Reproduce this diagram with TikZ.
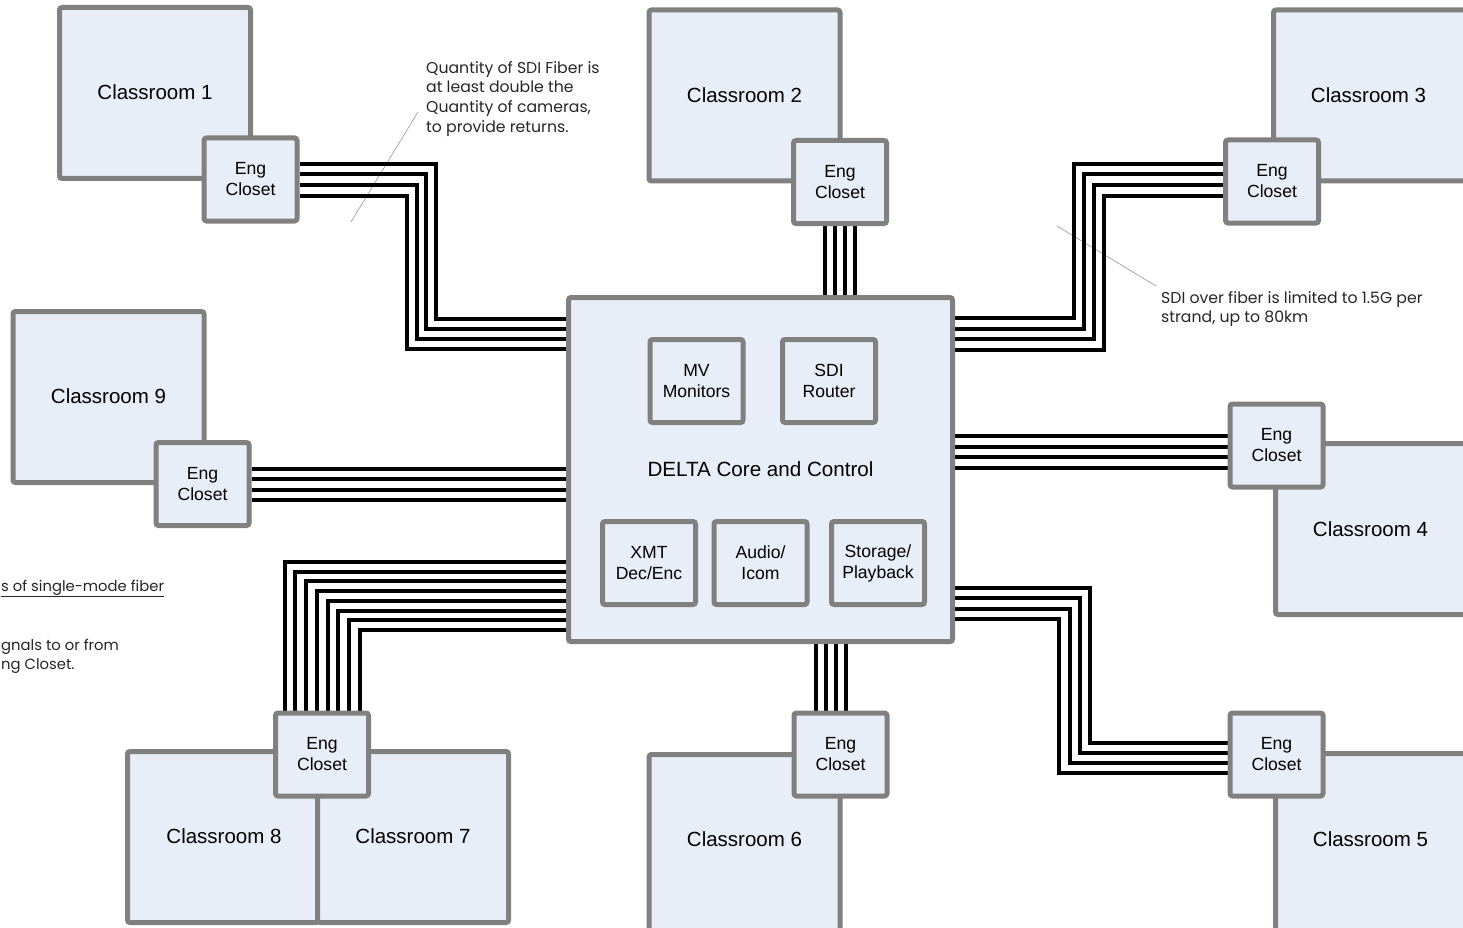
\documentclass[tikz,border=0pt]{standalone}
\usepackage{fontspec}
\setmainfont{Liberation Sans}
\newfontfamily\notefont{Poppins}
\pgfdeclarelayer{bg}
\pgfsetlayers{bg,main}
\definecolor{boxfill}{RGB}{232,238,248}
\definecolor{boxline}{RGB}{128,128,128}
\definecolor{notegray}{RGB}{150,150,150}
\begin{document}
\begin{tikzpicture}[x=1pt,y=-1pt,
  room/.style={draw=boxline,fill=boxfill,line width=5pt,rounded corners=2.5pt,
    minimum width=191pt,minimum height=171pt,inner sep=0pt},
  roomtext/.style={inner sep=0pt,font=\fontsize{20.5}{24}\selectfont},
  closet/.style={draw=boxline,fill=boxfill,line width=5pt,rounded corners=2.5pt,
    minimum width=93pt,minimum height=83pt,inner sep=0pt,align=center,
    font=\fontsize{17.6}{21}\selectfont},
  core/.style={draw=boxline,fill=boxfill,line width=5pt,rounded corners=2.5pt,
    minimum width=384pt,minimum height=344pt,inner sep=0pt,
    font=\fontsize{20.6}{24}\selectfont},
  fiber/.style={line width=4pt,black},
  note/.style={font=\notefont\fontsize{15.7}{19.7}\selectfont,align=left,inner sep=0pt,text=black!85},
  edgenote/.style={note,font=\notefont\fontsize{14.8}{19.7}\selectfont,anchor=base west},
  callout/.style={draw=notegray,line width=0.6pt}]
\useasboundingbox (0,0) rectangle (1463,928);

% classrooms and closets
\node[room] (r1) at (155,93) {};
\node[roomtext] (t1) at (155,92) {Classroom 1};
\node[closet] (ec1) at (250.5,179.5) {Eng\\Closet};
\node[room] (r2) at (744.5,95.5) {};
\node[roomtext] (t2) at (744.5,95) {Classroom 2};
\node[closet] (ec2) at (840,182) {Eng\\Closet};
\node[room,minimum width=205pt] (r3) at (1376,95.5) {};
\node[roomtext] (t3) at (1368.5,95) {Classroom 3};
\node[closet] (ec3) at (1272,181.5) {Eng\\Closet};
\node[room] (r9) at (108.5,397) {};
\node[roomtext] (t9) at (108.5,396) {Classroom 9};
\node[closet] (ec9) at (202.5,484) {Eng\\Closet};
\node[room,minimum width=205pt] (r4) at (1378,529) {};
\node[roomtext] (t4) at (1370.5,529) {Classroom 4};
\node[closet] (ec4) at (1276.5,445.5) {Eng\\Closet};
\node[room,minimum width=205pt,minimum height=190pt] (r5) at (1378,848.5) {};
\node[roomtext] (t5) at (1370.5,839) {Classroom 5};
\node[closet] (ec5) at (1276.5,754.5) {Eng\\Closet};
\node[room,minimum height=190pt] (r6) at (744.5,849.5) {};
\node[roomtext] (t6) at (744.5,839.5) {Classroom 6};
\node[closet] (ec6) at (840.5,754.5) {Eng\\Closet};
\node[room] (r8) at (223,837) {};
\node[roomtext] (t8) at (224,836) {Classroom 8};
\node[room] (r7) at (413,837) {};
\node[roomtext] (t7) at (413,836) {Classroom 7};
\node[closet] (ec78) at (322,754.5) {Eng\\Closet};

% core
\node[core] (core) at (760.5,469.5) {DELTA Core and Control};
\node[closet] (mv) at (696.5,381) {MV\\Monitors};
\node[closet] (sdi) at (829,381) {SDI\\Router};
\node[closet] (xmt) at (649,563) {XMT\\Dec/Enc};
\node[closet] (aud) at (760.5,563) {Audio/\\Icom};
\node[closet] (sto) at (878,563) {Storage/\\Playback};

% notes
\node[note,anchor=north west] (n1) at (426,61) {Quantity of SDI Fiber is\\at least double the\\Quantity of cameras,\\to provide returns.};
\node[note,anchor=north west] (n2) at (1161,291) {SDI over fiber is limited to 1.5G per\\strand, up to 80km};
\node[edgenote] (n3) at (1,591) {\underline{s of single-mode fiber}};
\node[edgenote] (n4) at (1,650) {gnals to or from};
\node[edgenote] (n5) at (1,669) {ng Closet.};

\coordinate (c1a) at (351,222);
\coordinate (c1b) at (418,112);
\coordinate (c2a) at (1057,226);
\coordinate (c2b) at (1156,286);

\begin{pgfonlayer}{bg}
\draw[callout] (c1a) -- (c1b);
\draw[callout] (c2a) -- (c2b);
% bundle 1
\foreach \ya/\xv/\yb in {164/436/318.5, 174.5/426/328.5, 185/416.5/338.5, 195.5/406.5/349}
  \draw[fiber] (ec1.east |- 0,\ya) -| (\xv,\yb) -- (core.west |- 0,\yb);
% bundle 3
\foreach \ya/\xv/\yb in {318/1073.5/164, 328.5/1083.5/174.5, 339/1093.5/185, 349.5/1104/195.5}
  \draw[fiber] (core.east |- 0,\ya) -| (\xv,\yb) -- (ec3.west |- 0,\yb);
% bundle 2
\foreach \x in {825,835,845,854.5}
  \draw[fiber] (ec2.south -| \x,0) -- (core.north -| \x,0);
% bundle 4
\foreach \y in {436,446.5,457,467.5}
  \draw[fiber] (core.east |- 0,\y) -- (ec4.west |- 0,\y);
% bundle 9
\foreach \y in {468.5,479,489.5,500}
  \draw[fiber] (ec9.east |- 0,\y) -- (core.west |- 0,\y);
% bundle 5
\foreach \ya/\xv/\yb in {587.5/1090/742.5, 598/1080/752.5, 608.5/1069.5/762.5, 619/1059/773}
  \draw[fiber] (core.east |- 0,\ya) -| (\xv,\yb) -- (ec5.west |- 0,\yb);
% bundle 6
\foreach \x in {815.7,825.7,835.7,846}
  \draw[fiber] (core.south -| \x,0) -- (ec6.north -| \x,0);
% bundle 7/8
\foreach \y/\x in {562/284.5, 571.7/295.25, 581.4/306, 591.1/316.75, 600.8/327.5, 610.5/338.25, 620.2/349, 629.9/359.75}
  \draw[fiber] (core.west |- 0,\y) -| (ec78.north -| \x,0);
\end{pgfonlayer}
\end{tikzpicture}
\end{document}
